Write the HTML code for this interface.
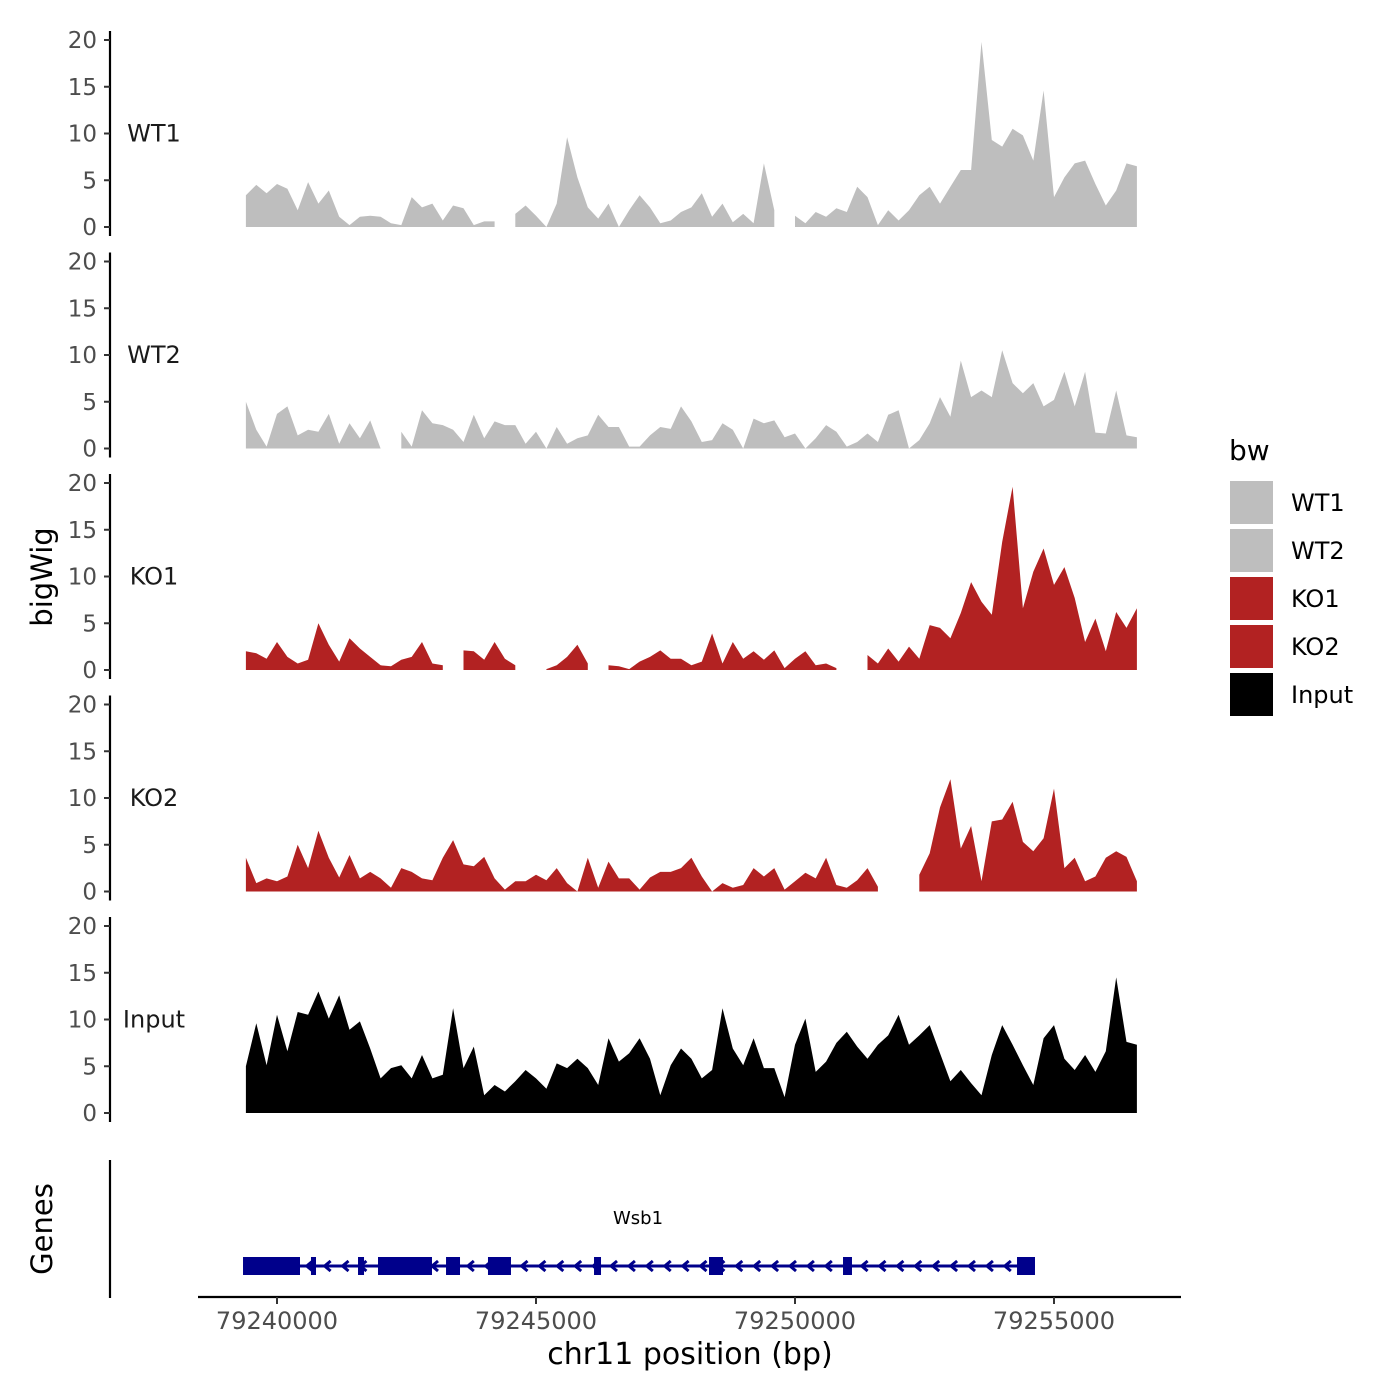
<!DOCTYPE html>
<html><head><meta charset="utf-8">
<style>
html,body{margin:0;padding:0;background:#fff;}
svg{display:block;font-family:"DejaVu Sans","Liberation Sans",sans-serif;}
</style></head>
<body>
<svg id="chart" width="1400" height="1400" viewBox="0 0 1400 1400" xmlns="http://www.w3.org/2000/svg">
<rect width="1400" height="1400" fill="#fff"/>
<g id="panels"></g>
<g id="genes"></g>
<g id="xaxis"></g>
<text x="0" y="0" transform="translate(52,577) rotate(-90)" text-anchor="middle" font-size="29" fill="#000">bigWig</text>
<text x="0" y="0" transform="translate(52,1229) rotate(-90)" text-anchor="middle" font-size="29" fill="#000">Genes</text>
<text x="690" y="1364" text-anchor="middle" font-size="30" fill="#000">chr11 position (bp)</text>
<g>
<text x="1229" y="460" font-size="28" fill="#000">bw</text>
<g id="legend"></g>
</g>
</svg>
<script>
// ---- data ----
const startBp = 79239400;
const stepBp = 200;
const sampleNames = ["WT1","WT2","KO1","KO2","Input"];
const sampleColors = ["#bebebe","#bebebe","#b22222","#b22222","#000000"];
const wt1 = [3.4,4.5,3.6,4.6,4.1,1.8,4.8,2.5,3.9,1.1,0.2,1.1,1.2,1.1,0.4,0.2,3.2,2.1,2.5,0.7,2.3,2.0,0.2,0.6,0.6,null,1.4,2.3,1.2,0,2.5,9.6,5.3,2.1,0.9,2.5,0,1.8,3.4,2.1,0.4,0.7,1.6,2.1,3.6,1.1,2.5,0.5,1.4,0.4,6.8,1.8,null,1.2,0.4,1.6,1.1,2.0,1.6,4.3,3.2,0.2,1.8,0.7,1.8,3.4,4.3,2.5,4.3,6.1,6.1,19.8,9.3,8.6,10.5,9.8,7.1,14.6,3.2,5.3,6.8,7.1,4.6,2.3,3.9,6.8,6.5];
const wt2 = [5.0,2.0,0.2,3.7,4.5,1.4,2.0,1.8,3.7,0.5,2.7,1.1,3.0,0,null,1.8,0.2,4.1,2.7,2.5,2.0,0.7,3.6,1.1,2.9,2.5,2.5,0.5,1.8,0,2.3,0.5,1.1,1.4,3.6,2.3,2.3,0.2,0.2,1.4,2.3,2.1,4.5,2.9,0.7,0.9,2.7,2.0,0,3.2,2.7,3.0,1.2,1.6,0,1.1,2.5,1.8,0.2,0.7,1.6,0.7,3.6,4.1,0,0.9,2.7,5.5,3.4,9.4,5.5,6.2,5.5,10.5,7.0,5.9,7.0,4.5,5.2,8.2,4.5,8.2,1.7,1.6,6.2,1.4,1.2];
const ko1 = [2.0,1.8,1.2,3.0,1.4,0.7,1.1,5.0,2.7,0.9,3.4,2.3,1.4,0.5,0.4,1.1,1.4,3.0,0.7,0.5,null,2.1,2.0,1.1,3.0,1.2,0.5,null,null,0.1,0.5,1.4,2.7,0.7,null,0.5,0.4,0.1,0.9,1.4,2.1,1.2,1.2,0.5,0.9,3.9,0.7,3.0,1.2,2.0,1.1,2.1,0.2,1.2,2.0,0.5,0.7,0.2,null,null,1.6,0.7,2.3,0.9,2.5,1.2,4.8,4.5,3.4,6.1,9.4,7.3,5.9,13.7,19.6,6.6,10.5,13.0,9.1,11.0,7.7,3.0,5.5,2.0,6.2,4.5,6.6];
const ko2 = [3.6,0.9,1.4,1.1,1.6,5.0,2.5,6.5,3.6,1.5,3.9,1.4,2.1,1.4,0.4,2.5,2.1,1.4,1.2,3.6,5.5,2.9,2.7,3.7,1.4,0.2,1.1,1.1,1.8,1.2,2.5,0.9,0,3.6,0.4,3.2,1.4,1.4,0.2,1.5,2.1,2.1,2.5,3.6,1.6,0,0.9,0.4,0.7,2.5,1.6,2.5,0.2,1.1,2.0,1.4,3.6,0.7,0.4,1.2,2.5,0.5,null,null,null,1.8,4.1,9.0,12.0,4.6,7.0,1.1,7.5,7.7,9.6,5.3,4.3,5.7,11.0,2.5,3.6,1.1,1.6,3.6,4.3,3.7,1.1];
const input = [5.0,9.6,5.1,10.5,6.6,10.8,10.5,13.0,10.1,12.6,8.9,9.8,6.9,3.7,4.8,5.1,3.7,6.2,3.7,4.1,11.2,4.8,7.1,1.9,3.0,2.3,3.4,4.6,3.7,2.6,5.3,4.8,5.8,4.8,3.0,8.0,5.5,6.4,8.0,5.8,1.9,5.1,6.9,5.8,3.7,4.6,11.2,6.9,5.1,8.0,4.8,4.8,1.7,7.3,10.1,4.4,5.5,7.5,8.7,7.1,5.8,7.3,8.3,10.5,7.3,8.3,9.4,6.4,3.4,4.6,3.2,1.9,6.2,9.4,7.3,5.1,3.0,8.0,9.4,5.8,4.6,6.2,4.4,6.6,14.5,7.6,7.3];
const yTicks = [0,5,10,15,20];
const xTicks = [79240000,79245000,79250000,79255000];
const geneName = "Wsb1";
const geneStart = 79239344;
const geneEnd = 79254633;
const exonStarts = [79239344,79240656,79241564,79241950,79243263,79244073,79246120,79248340,79250927,79254286];
const exonEnds   = [79240444,79240753,79241680,79242992,79243533,79244517,79246255,79248610,79251100,79254633];

// ---- scales ----
const NS="http://www.w3.org/2000/svg";
function mk(tag, attrs, parent){const e=document.createElementNS(NS,tag);for(const k in attrs)e.setAttribute(k,attrs[k]);if(parent)parent.appendChild(e);return e;}
function xScale(bp){return 277 + (bp-79240000)*0.0518;}
const panelTop0 = 227, panelGap = 221.5, pxPerUnit = 9.35;
function yScale(v, p){return panelTop0 + p*panelGap - v*pxPerUnit;}

const series = [wt1,wt2,ko1,ko2,input];
const panels = document.getElementById('panels');
series.forEach((vals,p)=>{
  const g = mk('g',{},panels);
  
  
  const base = yScale(0,p);
  let seg=[];
  const segs=[];
  vals.forEach((v,i)=>{
    if(v===null){ if(seg.length) segs.push(seg); seg=[]; }
    else seg.push([xScale(startBp+i*stepBp), yScale(v,p)]);
  });
  if(seg.length) segs.push(seg);
  segs.forEach(s=>{
    let d = 'M'+s[0][0].toFixed(1)+','+base;
    s.forEach(pt=>{d+='L'+pt[0].toFixed(1)+','+pt[1].toFixed(1);});
    d+='L'+s[s.length-1][0].toFixed(1)+','+base+'Z';
    const path = mk('path',{d:d,fill:sampleColors[p]},g);
    
    
  });
  const ax = mk('line',{x1:110,x2:110,y1:yScale(20,p)-9,y2:base+9,stroke:'#000','stroke-width':2.2},g);
  
  
  yTicks.forEach(t=>{
    const y=yScale(t,p);
    mk('line',{x1:104,x2:110,y1:y,y2:y,stroke:'#333','stroke-width':2},g);
    const tx = mk('text',{x:97,y:y+8,'text-anchor':'end','font-size':23,fill:'#4d4d4d'},g);
    tx.textContent=t;
    
    
  });
  const lab = mk('text',{x:154,y:yScale(10,p)+8,'text-anchor':'middle','font-size':24,fill:'#1a1a1a'},g);
  lab.textContent = sampleNames[p];
  
  
});

// ---- genes ----
const gg = document.getElementById('genes');


mk('line',{x1:110,x2:110,y1:1160,y2:1298,stroke:'#000','stroke-width':2.2},gg);
const gy=1266;
mk('line',{x1:xScale(geneStart),x2:xScale(geneEnd),y1:gy,y2:gy,stroke:'#00008b','stroke-width':3},gg);
for(let x=xScale(geneStart)+12; x<xScale(geneEnd)-6; x+=17.9){
  mk('path',{d:`M${x+4},${gy-5}L${x-2},${gy}L${x+4},${gy+5}`,stroke:'#00008b','stroke-width':3,fill:'none'},gg);
}
exonStarts.forEach((s,i)=>{
  const r = mk('rect',{x:xScale(s),y:gy-9,width:Math.max(4,xScale(exonEnds[i])-xScale(s)),height:18,fill:'#00008b'},gg);
  
  
});
const gl = mk('text',{x:638,y:1224,'text-anchor':'middle','font-size':18,fill:'#000'},gg);
gl.textContent = geneName;



// ---- x axis ----
const xa = document.getElementById('xaxis');


mk('line',{x1:198,x2:1181,y1:1297,y2:1297,stroke:'#000','stroke-width':2.2},xa);
xTicks.forEach(t=>{
  const x=xScale(t);
  mk('line',{x1:x,x2:x,y1:1297,y2:1304,stroke:'#333','stroke-width':2},xa);
  const tx=mk('text',{x:x,y:1329,'text-anchor':'middle','font-size':24,fill:'#4d4d4d'},xa);
  tx.textContent=t;
  
  
});

// ---- legend ----
const lg=document.getElementById('legend');
sampleNames.forEach((n,i)=>{
  const y=481+i*48;
  const r=mk('rect',{x:1230,y:y,width:43,height:43,fill:sampleColors[i]},lg);
  
  
  const t=mk('text',{x:1291,y:y+30,'font-size':24,fill:'#000'},lg);
  t.textContent=n;
  
  
});
</script>
</body></html>
